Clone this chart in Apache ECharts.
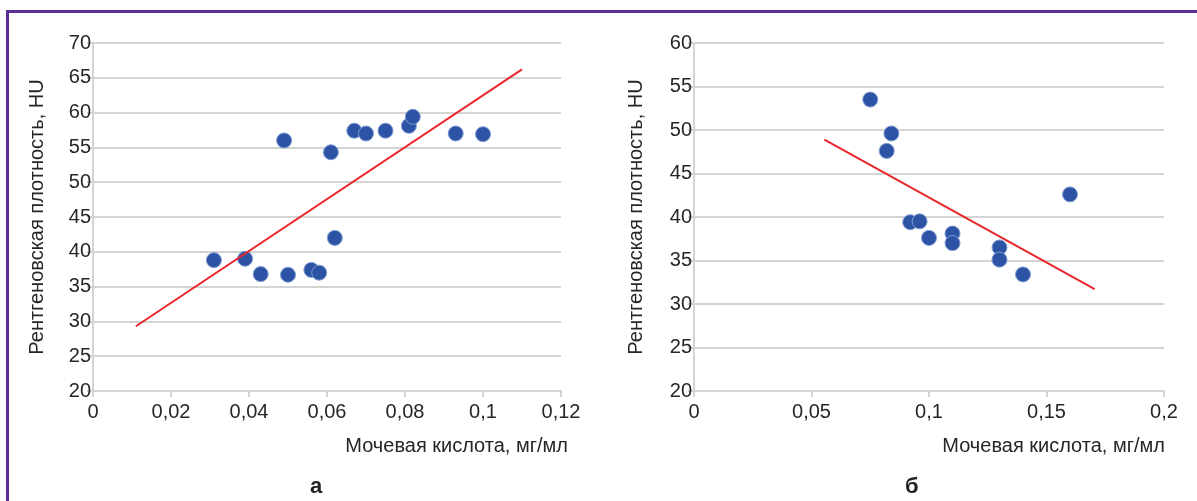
<!DOCTYPE html>
<html>
<head>
<meta charset="utf-8">
<script src="https://cdn.jsdelivr.net/npm/echarts@6/dist/echarts.min.js"></script>
<style>
  html, body { margin: 0; padding: 0; background: #fff; }
  .frame {
    position: absolute; left: 6px; top: 10px; right: 0; bottom: 0;
    border-left: 3px solid #5a2e92; border-top: 3px solid #5a2e92;
  }
  #chart { position: absolute; left: 0; top: 0; width: 1197px; height: 501px; }
</style>
</head>
<body>
<div class="frame"></div>
<div id="chart"></div>
<script>
// панель а
const uricA = [0.031, 0.039, 0.043, 0.049, 0.050, 0.056, 0.058, 0.061, 0.062, 0.067, 0.070, 0.075, 0.081, 0.082, 0.093, 0.100]
const densityA = [38.8, 39.0, 36.8, 56.0, 36.7, 37.4, 37.0, 54.3, 42.0, 57.4, 57.0, 57.4, 58.1, 59.4, 57.0, 56.9]
const trendA = [[0.011, 29.3], [0.110, 66.2]]

// панель б
const uricB = [0.075, 0.084, 0.082, 0.092, 0.096, 0.100, 0.110, 0.110, 0.130, 0.130, 0.140, 0.160]
const densityB = [53.5, 49.6, 47.6, 39.4, 39.5, 37.6, 38.1, 37.0, 36.5, 35.1, 33.4, 42.6]
const trendB = [[0.0555, 48.9], [0.1705, 31.7]]

const xTitle = 'Мочевая кислота, мг/мл'
const yTitle = 'Рентгеновская плотность, HU'

var chart = echarts.init(document.getElementById('chart'))

function comma(v) {
  return String(+v.toFixed(3)).replace('.', ',')
}

function xAxisOf(idx, max, interval) {
  return {
    type: 'value',
    gridIndex: idx,
    min: 0,
    max: max,
    interval: interval,
    name: xTitle,
    nameLocation: 'end',
    nameGap: idx === 0 ? 7 : 1,
    nameTextStyle: { align: 'right', verticalAlign: 'top', padding: [45, 0, 0, 0], fontSize: 20, color: '#262626', fontFamily: 'Liberation Sans' },
    axisLine: { lineStyle: { color: '#d4d4d4', width: 2 } },
    axisTick: { show: true, length: 6, lineStyle: { color: '#d4d4d4', width: 2 } },
    axisLabel: { formatter: comma, fontSize: 20, color: '#262626', margin: 11, fontFamily: 'Liberation Sans' },
    splitLine: { show: false }
  }
}

function yAxisOf(idx, min, max) {
  return {
    type: 'value',
    gridIndex: idx,
    min: min,
    max: max,
    interval: 5,
    name: yTitle,
    nameLocation: 'middle',
    nameRotate: 90,
    nameGap: idx === 0 ? 46 : 48,
    nameTextStyle: { fontSize: 20, color: '#262626', fontFamily: 'Liberation Sans' },
    axisLine: { show: true, lineStyle: { color: '#d4d4d4', width: 2 } },
    axisTick: { show: true, length: 6, lineStyle: { color: '#d4d4d4', width: 2 } },
    axisLabel: { fontSize: 20, color: '#262626', margin: 2, fontFamily: 'Liberation Sans' },
    splitLine: { lineStyle: { color: '#d4d4d4', width: 2 } }
  }
}

var dotStyle = { color: '#2c53a4', borderColor: '#7f9bd3', borderWidth: 1, opacity: 1 }

const option = {
  animation: false,
  grid: [
    { left: 93, right: 636, top: 43, bottom: 110 },
    { left: 694, right: 33, top: 43, bottom: 110 }
  ],
  xAxis: [xAxisOf(0, 0.12, 0.02), xAxisOf(1, 0.2, 0.05)],
  yAxis: [yAxisOf(0, 20, 70), yAxisOf(1, 20, 60)],
  series: [
    {
      type: 'scatter',
      xAxisIndex: 0,
      yAxisIndex: 0,
      symbolSize: 15,
      itemStyle: dotStyle,
      data: uricA.map((x, i) => [x, densityA[i]])
    },
    {
      type: 'line',
      xAxisIndex: 0,
      yAxisIndex: 0,
      showSymbol: false,
      lineStyle: { color: '#e8262b', width: 2 },
      data: trendA
    },
    {
      type: 'scatter',
      xAxisIndex: 1,
      yAxisIndex: 1,
      symbolSize: 15,
      itemStyle: dotStyle,
      data: uricB.map((x, i) => [x, densityB[i]])
    },
    {
      type: 'line',
      xAxisIndex: 1,
      yAxisIndex: 1,
      showSymbol: false,
      lineStyle: { color: '#e8262b', width: 2 },
      data: trendB
    }
  ],
  graphic: [
    { type: 'text', left: 310, top: 476, style: { text: 'а', fontSize: 22, fontWeight: 'bold', fill: '#222', fontFamily: 'Liberation Sans' } },
    { type: 'text', left: 905, top: 476, style: { text: 'б', fontSize: 22, fontWeight: 'bold', fill: '#222', fontFamily: 'Liberation Sans' } }
  ]
}
chart.setOption(option, true)
</script>
</body>
</html>
